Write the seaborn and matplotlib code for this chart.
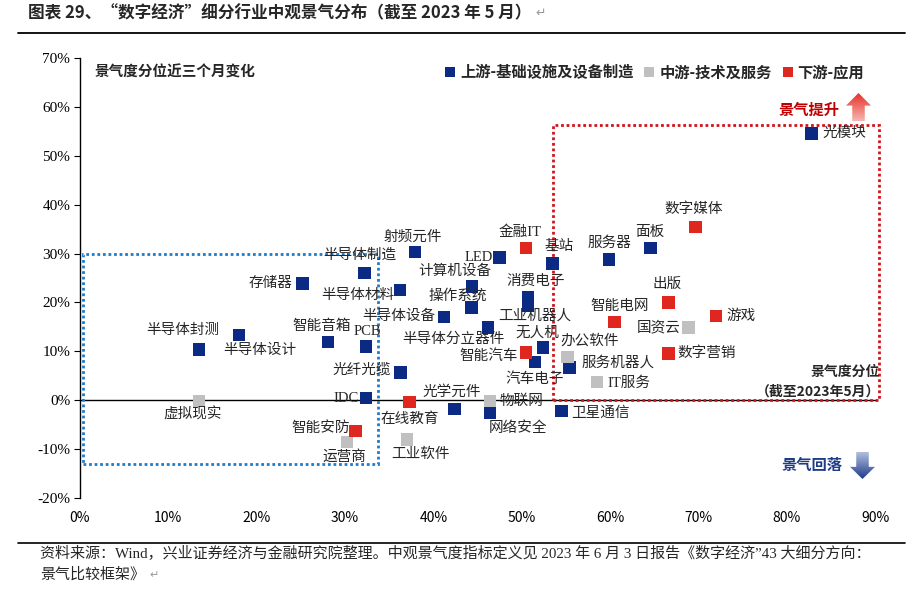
# 数字经济细分行业中观景气分布 scatter

import numpy as np
import pandas as pd
import seaborn as sns
import matplotlib.pyplot as plt
from matplotlib.patches import Rectangle, FancyArrow
from matplotlib.colors import LinearSegmentedColormap
from matplotlib.ticker import PercentFormatter

# data (x: 景气度分位, y: 近三个月变化, in %)
up_names = ['光模块', '面板', '服务器', '基站', 'LED', '射频元件', '半导体制造', '存储器',
            '计算机设备', '半导体材料', '操作系统', '消费电子', '工业机器人', '半导体设备',
            '半导体分立器件', '智能音箱', 'PCB', '无人机', '汽车电子', '服务机器人',
            '光纤光缆', 'IDC', '光学元件', '网络安全', '卫星通信', '半导体封测', '半导体设计']
up_x = [82.8, 64.6, 59.9, 53.5, 47.5, 37.9, 32.2, 25.2, 44.4, 36.2, 44.3, 50.7, 50.7, 41.2,
        46.2, 28.1, 32.4, 52.4, 51.5, 55.4, 36.3, 32.4, 42.4, 46.4, 54.5, 13.5, 18.0]
up_y = [54.6, 31.1, 28.8, 28.0, 29.2, 30.3, 26.0, 23.9, 23.3, 22.5, 19.0, 21.1, 19.4, 17.0,
        14.9, 11.9, 11.0, 10.8, 7.8, 6.7, 5.7, 0.4, -1.8, -2.5, -2.2, 10.4, 13.3]

mid_names = ['办公软件', 'IT服务', '国资云', '物联网', '运营商', '工业软件', '虚拟现实']
mid_x = [55.2, 58.5, 68.9, 46.4, 30.2, 37.0, 13.5]
mid_y = [8.8, 3.7, 14.9, -0.2, -8.6, -8.0, -0.2]

down_names = ['金融IT', '数字媒体', '出版', '智能电网', '游戏', '数字营销', '智能汽车',
              '在线教育', '智能安防']
down_x = [50.5, 69.7, 66.6, 60.5, 72.0, 66.6, 50.5, 37.3, 31.2]
down_y = [31.1, 35.4, 20.0, 16.0, 17.2, 9.6, 9.8, -0.4, -6.3]

segments = ['上游-基础设施及设备制造', '中游-技术及服务', '下游-应用']
colors = ['#0B2A83', '#C0C0C0', '#E0271F']
x_ticks = [0, 10, 20, 30, 40, 50, 60, 70, 80, 90]
y_ticks = [-20, -10, 0, 10, 20, 30, 40, 50, 60, 70]

df = pd.concat([
    pd.DataFrame({'name': up_names, 'x': up_x, 'y': up_y, 'seg': segments[0]}),
    pd.DataFrame({'name': mid_names, 'x': mid_x, 'y': mid_y, 'seg': segments[1]}),
    pd.DataFrame({'name': down_names, 'x': down_x, 'y': down_y, 'seg': segments[2]}),
], ignore_index=True)

# label placement (pixel offsets from point, alignment)
label_pos = {
    '光模块': (11, 0, 'left'), '面板': (-1, 16, 'center'), '服务器': (0, 16, 'center'),
    '基站': (7, 17, 'center'), 'LED': (-7, 0, 'right'), '金融IT': (-6, 16, 'center'),
    '射频元件': (-2, 15, 'center'), '半导体制造': (-5, 18, 'center'), '存储器': (-10, 0, 'right'),
    '计算机设备': (-17, 15, 'center'), '半导体材料': (-5, -5, 'right'), '操作系统': (-14, 11, 'center'),
    '消费电子': (8, 16, 'center'), '工业机器人': (7, -11, 'center'), '半导体设备': (-9, 1, 'right'),
    '半导体分立器件': (-35, -12, 'center'), '智能音箱': (-7, 16, 'center'), 'PCB': (1, 15, 'center'),
    '无人机': (-6, 14, 'center'), '智能汽车': (-8, -4, 'right'), '汽车电子': (0, -17, 'center'),
    '办公软件': (22, 16, 'center'), '服务机器人': (12, 5, 'left'), '光纤光缆': (-10, 2, 'right'),
    'IDC': (-7, 0, 'right'), '在线教育': (0, -17, 'center'), '光学元件': (-3, 17, 'center'),
    '物联网': (10, 0, 'left'), '网络安全': (28, -16, 'center'), '卫星通信': (10, -2, 'left'),
    '智能安防': (-6, 3, 'right'), '运营商': (-2, -15, 'center'), '工业软件': (14, -15, 'center'),
    '半导体封测': (-16, 19, 'center'), '半导体设计': (21, -15, 'center'), '虚拟现实': (-7, -13, 'center'),
    '数字媒体': (-2, 18, 'center'), '出版': (-1, 18, 'center'), '智能电网': (5, 16, 'center'),
    '游戏': (10, 0, 'left'), '国资云': (-8, 0, 'right'), '数字营销': (9, 0, 'left'),
    'IT服务': (11, -1, 'left'),
}

sns.set_style('white')
plt.rcParams['font.family'] = ['Noto Sans CJK SC', 'DejaVu Sans']
plt.rcParams['axes.unicode_minus'] = False
serif_cjk = ['Liberation Serif', 'Noto Sans CJK SC']

W, H = 921, 590
fig = plt.figure(figsize=(W / 100, H / 100), dpi=100)
ax = fig.add_axes([80 / W, 1 - 498 / H, 795 / W, 440 / H])

def fx(px):
    return px / W

def fy(py):
    return 1 - py / H

sns.scatterplot(data=df, x='x', y='y', hue='seg', hue_order=segments, palette=colors,
                marker='s', s=80, linewidth=0, ax=ax, zorder=4)

for _, r in df.iterrows():
    dx, dy, ha = label_pos[r['name']]
    ax.annotate(r['name'], (r['x'], r['y']), xytext=(dx, dy), textcoords='offset pixels',
                ha=ha, va='center', fontsize=10.5, family=serif_cjk, zorder=5)

ax.set_xlim(0, 90)
ax.set_ylim(-20, 70)
ax.set_xticks(x_ticks)
ax.set_yticks(y_ticks)
ax.xaxis.set_major_formatter(PercentFormatter(decimals=0))
ax.yaxis.set_major_formatter(PercentFormatter(decimals=0))
for lab in ax.get_xticklabels() + ax.get_yticklabels():
    lab.set_family('Liberation Serif')
    lab.set_fontsize(11)
ax.set_xlabel('')
ax.set_ylabel('')
ax.spines['top'].set_visible(False)
ax.spines['right'].set_visible(False)
ax.spines['bottom'].set_position(('data', 0))
ax.spines['bottom'].set_linewidth(1)
ax.spines['left'].set_linewidth(1)
ax.spines['bottom'].set_color('black')
ax.spines['left'].set_color('black')
ax.tick_params(axis='x', direction='in', length=4, width=0.8, pad=80, colors='black')
ax.tick_params(axis='y', direction='out', length=4, width=0.8, pad=3, colors='black', left=True)
ax.grid(False)

# quadrant boxes
ax.add_patch(Rectangle((0.3, -13), 33.4, 43, fill=False, ec='#1F7BC8', lw=2,
                       ls=(0, (1, 1)), zorder=3, clip_on=False))
ax.add_patch(Rectangle((53.6, 0), 36.8, 56.2, fill=False, ec='#D0141C', lw=2,
                       ls=(0, (1, 1)), zorder=3, clip_on=False))

leg = ax.legend(loc='upper right', bbox_to_anchor=(1.0, 1.01), ncol=3, frameon=False,
                handlelength=0.9, handletextpad=0.2, columnspacing=0.6, borderaxespad=0.3,
                prop={'family': 'Noto Sans CJK SC', 'weight': 'bold', 'size': 11},
                markerscale=0.75)

# texts inside the chart
fig.text(fx(95), fy(72), '景气度分位近三个月变化', fontsize=10.5, weight='bold', va='center')
fig.text(fx(880), fy(372), '景气度分位', fontsize=10, weight='bold', va='center', ha='right')
fig.text(fx(880), fy(392), '（截至2023年5月）', fontsize=10, weight='bold', va='center', ha='right')
fig.text(fx(840), fy(110), '景气提升', fontsize=11, weight='bold', color='#C00000', va='center', ha='right')
fig.text(fx(843), fy(465), '景气回落', fontsize=11, weight='bold', color='#1F3C88', va='center', ha='right')

# gradient arrows
def grad_arrow(x0, y0, w, h, up, c_top, c_bot):
    aax = fig.add_axes([fx(x0), fy(y0 + h), w / W, h / H])
    aax.set_axis_off()
    grad = np.linspace(0, 1, 64)[:, None]
    cmap = LinearSegmentedColormap.from_list('g', [c_bot, c_top])
    im = aax.imshow(grad, cmap=cmap, extent=(0, 1, 0, 1), origin='lower', aspect='auto')
    if up:
        arr = FancyArrow(0.5, 0, 0, 1, width=0.5, head_width=1.0, head_length=0.45,
                         length_includes_head=True, transform=aax.transAxes, fc='none', ec='none')
    else:
        arr = FancyArrow(0.5, 1, 0, -1, width=0.5, head_width=1.0, head_length=0.45,
                         length_includes_head=True, transform=aax.transAxes, fc='none', ec='none')
    aax.add_patch(arr)
    im.set_clip_path(arr)

grad_arrow(846, 93, 25, 28, True, '#E8322B', '#F6B5AF')
grad_arrow(850, 452, 25, 27, False, '#B5C2E0', '#1F3C88')

# title, lines, footer
t = fig.text(fx(28), fy(13), '图表 29、“数字经济”细分行业中观景气分布（截至 2023 年 5 月）',
             fontsize=12, weight='bold', va='center')
ax.annotate('↵', xy=(1, 0.5), xycoords=t, xytext=(3, 0), textcoords='offset points',
            va='center', ha='left', fontsize=9, color='#999999', family='DejaVu Sans',
            annotation_clip=False)
fig.add_artist(plt.Line2D([fx(18), fx(905)], [fy(33), fy(33)], color='black', lw=1.3))
fig.add_artist(plt.Line2D([fx(18), fx(905)], [fy(543), fy(543)], color='black', lw=1.2))
fig.text(fx(40), fy(554),
         '资料来源：Wind，兴业证券经济与金融研究院整理。中观景气度指标定义见 2023 年 6 月 3 日报告《数字经济”43 大细分方向：',
         fontsize=10.8, va='center', family=serif_cjk)
f2 = fig.text(fx(40), fy(575), '景气比较框架》', fontsize=10.8, va='center', family=serif_cjk)
ax.annotate('↵', xy=(1, 0.5), xycoords=f2, xytext=(3, 0), textcoords='offset points',
            va='center', ha='left', fontsize=8, color='#999999', family='DejaVu Sans',
            annotation_clip=False)

fig.savefig('out.png', dpi=100)
